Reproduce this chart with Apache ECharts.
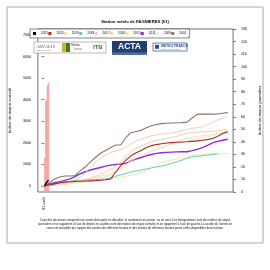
<!DOCTYPE html>
<html>
<head>
<meta charset="UTF-8">
<title>Station météo de FAGNIERES (51)</title>
<script src="https://cdn.jsdelivr.net/npm/echarts@6/dist/echarts.min.js"></script>
<style>
html, body { margin: 0; padding: 0; background: #fff; }
#main { width: 270px; height: 270px; }
</style>
</head>
<body>
<div id="main"></div>
<script>
// années de référence (ordre de la légende)
var years = ['2021', '2020', '2019', '2018', '2017', '2016', '2015', '2011', '2009', '2001'];
var colors = ['#000000', '#B22222', '#F5DEB3', '#66CDAA', '#EBCFC4', '#F8D0A0', '#EEE8AA', '#8A2BE2', '#DDEEDD', '#8B7765'];
var widths = [1.4, 1.1, 1, 1, 1, 1, 1, 1.4, 1, 1.1];

// indice de risque cumulé, une valeur par décade (0 = 01-août)
var cum2020 = [0, 50, 100, 150, 180, 200, 210, 220, 230, 240, 250, 270, 290, 330, 650, 950, 1200, 1400, 1540, 1650, 1780, 1870, 1920, 1960, 1990, 2010, 2030, 2040, 2050, 2070, 2090, 2120, 2150, 2200, 2300, 2430, 2520];
var cum2019 = [0, 25, 50, 85, 120, 160, 200, 250, 300, 350, 400, 450, 500, 560, 700, 850, 1000, 1150, 1300, 1400, 1500, 1600, 1700, 1780, 1850, 1950, 2050, 2150, 2200, 2250, 2300, 2330, 2360, 2400, 2430, 2470, 2500];
var cum2018 = [0, 40, 80, 130, 180, 220, 250, 270, 280, 290, 300, 310, 320, 360, 450, 520, 580, 650, 700, 740, 790, 840, 890, 930, 980, 1050, 1120, 1200, 1280, 1350, 1380, 1400, 1430, 1460, 1490, null, null];
var cum2017 = [0, 30, 60, 100, 150, 200, 280, 400, 600, 850, 1100, 1300, 1450, 1550, 1620, 1680, 1800, 1950, 2080, 2170, 2250, 2320, 2370, 2400, 2430, 2460, 2500, 2560, 2620, 2680, 2700, 2750, 2850, 2950, 3050, 3150, 3230];
var cum2016 = [0, 20, 50, 80, 110, 150, 190, 240, 300, 370, 450, 540, 650, 770, 900, 1100, 1350, 1600, 1750, 1850, 1950, 2050, 2120, 2150, 2200, 2250, 2300, 2380, 2450, 2480, 2500, 2510, 2520, 2540, 2560, 2590, 2610];
var cum2015 = [0, 15, 30, 50, 70, 100, 130, 160, 190, 220, 250, 280, 310, 340, 370, 400, 450, 500, 550, 620, 700, 800, 950, 1100, 1150, 1200, 1250, 1300, 1350, 1430, 1450, 1470, 1480, 1490, 1500, 1505, 1510];
var cum2011 = [0, 80, 150, 200, 260, 330, 430, 560, 660, 740, 800, 860, 920, 970, 1000, 1020, 1050, 1170, 1250, 1320, 1400, 1460, 1510, 1540, 1560, 1570, 1580, 1585, 1590, 1640, 1700, 1780, 1880, 2000, 2070, 2120, 2170];
var cum2009 = [0, 20, 40, 70, 100, 130, 160, 195, 230, 275, 320, 375, 430, 520, 650, 800, 950, 1100, 1250, 1380, 1500, 1600, 1700, 1800, 1870, 1930, 1990, 2040, 2090, 2140, 2190, 2240, 2280, 2330, 2380, 2420, 2460];
var cum2001 = [0, 150, 320, 420, 465, 465, 480, 700, 880, 1110, 1320, 1520, 1650, 1770, 1900, 1900, 2250, 2470, 2530, 2580, 2700, 2790, 2850, 2890, 2910, 2920, 2930, 2940, 2960, 3150, 3320, 3330, 3330, 3330, 3340, 3370, 3400];

// année en cours : jours de la première décade
var days2021 = [0, 0.1, 0.2, 0.3, 0.4, 0.5, 0.6, 0.7, 0.8, 0.9];
var cum2021 = [0, 2, 30, 80, 150, 170, 200, 240, 270, 290];
var barDays2021 = [0.05, 0.15, 0.25, 0.35, 0.45, 0.55, 0.65, 0.75, 0.85];
var daily2021 = [28, 28, 73, 73, 73, 85, 85, 87, 87];

var leftTicks = [0, 1000, 2000, 3000, 4000, 5000, 6000, 7000];
var xTicks = [0];
var xTickLabels = ['01-août'];

var caption = [
  "L'axe des abscisses comprend une année découpée en décades, et commence en janvier  ou en aout. Les histogrammes sont des indices de risque",
  "journaliers et se rapportent à l'axe de droite.Les courbes sont des indices de risque cumulés et se rapportent à l'axe de gauche.La courbe de l'année en",
  "cours est encadrée par rapport des années de référence hautes et des années de référence basses parmi celles disponibles dans la base."
];

var font = 'Liberation Sans';
var chart = echarts.init(document.getElementById('main'));

var cumByYear = {
  '2020': cum2020, '2019': cum2019, '2018': cum2018, '2017': cum2017, '2016': cum2016,
  '2015': cum2015, '2011': cum2011, '2009': cum2009, '2001': cum2001
};

var series = [];
// histogramme journalier (axe de droite)
series.push({
  name: 'journalier',
  type: 'bar',
  xAxisIndex: 0,
  yAxisIndex: 1,
  barWidth: 1,
  itemStyle: { color: '#F7A3A3' },
  silent: true,
  data: barDays2021.map(function (d, i) { return [d, daily2021[i]]; })
});
// courbes cumulées, de la plus ancienne à la plus récente
for (var k = years.length - 1; k >= 0; k--) {
  var y = years[k];
  var pts;
  if (y === '2021') {
    pts = days2021.map(function (d, i) { return [d, cum2021[i]]; });
  } else {
    pts = cumByYear[y].map(function (v, i) { return [i, v]; });
  }
  series.push({
    name: y,
    type: 'line',
    yAxisIndex: 0,
    symbol: 'none',
    color: colors[k],
    lineStyle: { color: colors[k], width: widths[k] },
    data: pts
  });
}

var graphics = [
  // cadre extérieur
  { type: 'rect', shape: { x: 7, y: 7, width: 256, height: 236 }, style: { fill: 'none', stroke: '#aaaaaa', lineWidth: 1 }, z: -1 },
  // logos
  { type: 'rect', shape: { x: 34, y: 42, width: 72, height: 11 }, style: { fill: '#fff', stroke: '#8a8a8a', lineWidth: 0.6 } },
  { type: 'text', x: 36, y: 44.5, style: { text: 'ARVALIS', fontFamily: 'Liberation Serif', fontSize: 4.6, fill: '#7A5A2A' } },
  { type: 'text', x: 36, y: 49.6, style: { text: 'Institut du végétal', fontFamily: font, fontSize: 1.8, fill: '#7A7A7A' } },
  { type: 'rect', shape: { x: 62, y: 43, width: 4, height: 9 }, style: { fill: '#C9B521' } },
  { type: 'rect', shape: { x: 66, y: 43, width: 4, height: 9 }, style: { fill: '#3D7A2A' } },
  { type: 'text', x: 71, y: 43.6, style: { text: 'Terres', fontFamily: font, fontSize: 3, fontWeight: 'bold', fill: '#8B2A2A' } },
  { type: 'text', x: 74, y: 48, style: { text: 'Inovia', fontFamily: font, fontSize: 3, fill: '#5C8A2A' } },
  { type: 'text', x: 93, y: 44, style: { text: 'ITB', fontFamily: font, fontSize: 6, fontWeight: 'bold', fill: '#2E7D32' } },
  { type: 'rect', shape: { x: 112, y: 41, width: 35, height: 14 }, style: { fill: '#223F6E' } },
  { type: 'rect', shape: { x: 112, y: 52.5, width: 35, height: 2.5 }, style: { fill: '#4F6E9E' } },
  { type: 'text', x: 129.5, y: 47, style: { text: 'ACTA', fontFamily: font, fontSize: 8.5, fontWeight: 'bold', fill: '#ffffff', align: 'center', verticalAlign: 'middle' } },
  { type: 'rect', shape: { x: 153, y: 43, width: 34, height: 8 }, style: { fill: '#fff', stroke: '#2B4C8C', lineWidth: 0.7 } },
  { type: 'rect', shape: { x: 155, y: 44.8, width: 4, height: 4 }, style: { fill: '#2B4C8C' } },
  { type: 'text', x: 161, y: 44.6, style: { text: 'METEO FRANCE', fontFamily: font, fontSize: 3.4, fontWeight: 'bold', fill: '#2B4C8C' } },
  { type: 'text', x: 161, y: 48.3, style: { text: 'Toujours un temps d\'avance', fontFamily: font, fontSize: 1.6, fill: '#6A7FA8' } }
];
caption.forEach(function (line, i) {
  graphics.push({
    type: 'text', x: 135, y: 220.7 + i * 3.8,
    style: { text: line, fontFamily: font, fontSize: 2.9, fill: '#111', align: 'center', verticalAlign: 'middle' }
  });
});

var option = {
  animation: false,
  backgroundColor: '#fff',
  textStyle: { fontFamily: font },
  title: {
    text: 'Station météo de FAGNIERES (51)',
    left: 'center',
    top: 15,
    textStyle: { fontFamily: font, fontSize: 4.2, fontWeight: 'bold', color: '#000' }
  },
  legend: {
    data: years,
    left: 30,
    top: 29,
    padding: [3, 3],
    itemWidth: 3,
    itemHeight: 3,
    itemGap: 0.3,
    icon: 'rect',
    backgroundColor: '#fff',
    borderColor: '#333',
    borderWidth: 0.6,
    borderRadius: 0,
    textStyle: { fontFamily: font, fontSize: 3.2, color: '#000' }
  },
  grid: {
    left: 30, top: 29, right: 31, bottom: 78,
    show: true, borderColor: '#333', borderWidth: 0.7, backgroundColor: 'transparent'
  },
  xAxis: {
    type: 'value',
    min: -1.284,
    max: 37.05,
    axisLine: { show: false },
    splitLine: { show: false },
    axisTick: { show: true, length: 3, customValues: xTicks, lineStyle: { color: '#333', width: 0.6 } },
    axisLabel: {
      customValues: xTicks,
      rotate: 90,
      margin: 5,
      fontSize: 3.8,
      color: '#000',
      fontFamily: font,
      formatter: function (v) { return xTickLabels[xTicks.indexOf(v)] || ''; }
    }
  },
  yAxis: [{
    type: 'value',
    position: 'left',
    min: -278,
    max: 7278,
    name: 'Indice de risque cumulé',
    nameLocation: 'middle',
    nameRotate: 90,
    nameGap: 17,
    nameTextStyle: { fontFamily: font, fontSize: 4.3, color: '#000' },
    axisLine: { show: false },
    splitLine: { show: false },
    axisTick: { show: true, length: 3, customValues: leftTicks, lineStyle: { color: '#333', width: 0.6 } },
    axisLabel: {
      customValues: leftTicks, margin: 7, fontSize: 3.6, color: '#000', fontFamily: font,
      formatter: function (v) { return String(v); }
    }
  }, {
    type: 'value',
    position: 'right',
    min: 0,
    max: 130,
    interval: 10,
    name: 'Indice de risque journalier',
    nameLocation: 'middle',
    nameRotate: 90,
    nameGap: 19,
    nameTextStyle: { fontFamily: font, fontSize: 4.3, color: '#000' },
    axisLine: { show: false },
    splitLine: { show: false },
    axisTick: { show: true, length: 3, lineStyle: { color: '#333', width: 0.6 } },
    axisLabel: { margin: 8, fontSize: 3.6, color: '#000', fontFamily: font }
  }],
  graphic: graphics,
  series: series
};

chart.setOption(option);
</script>
</body>
</html>
